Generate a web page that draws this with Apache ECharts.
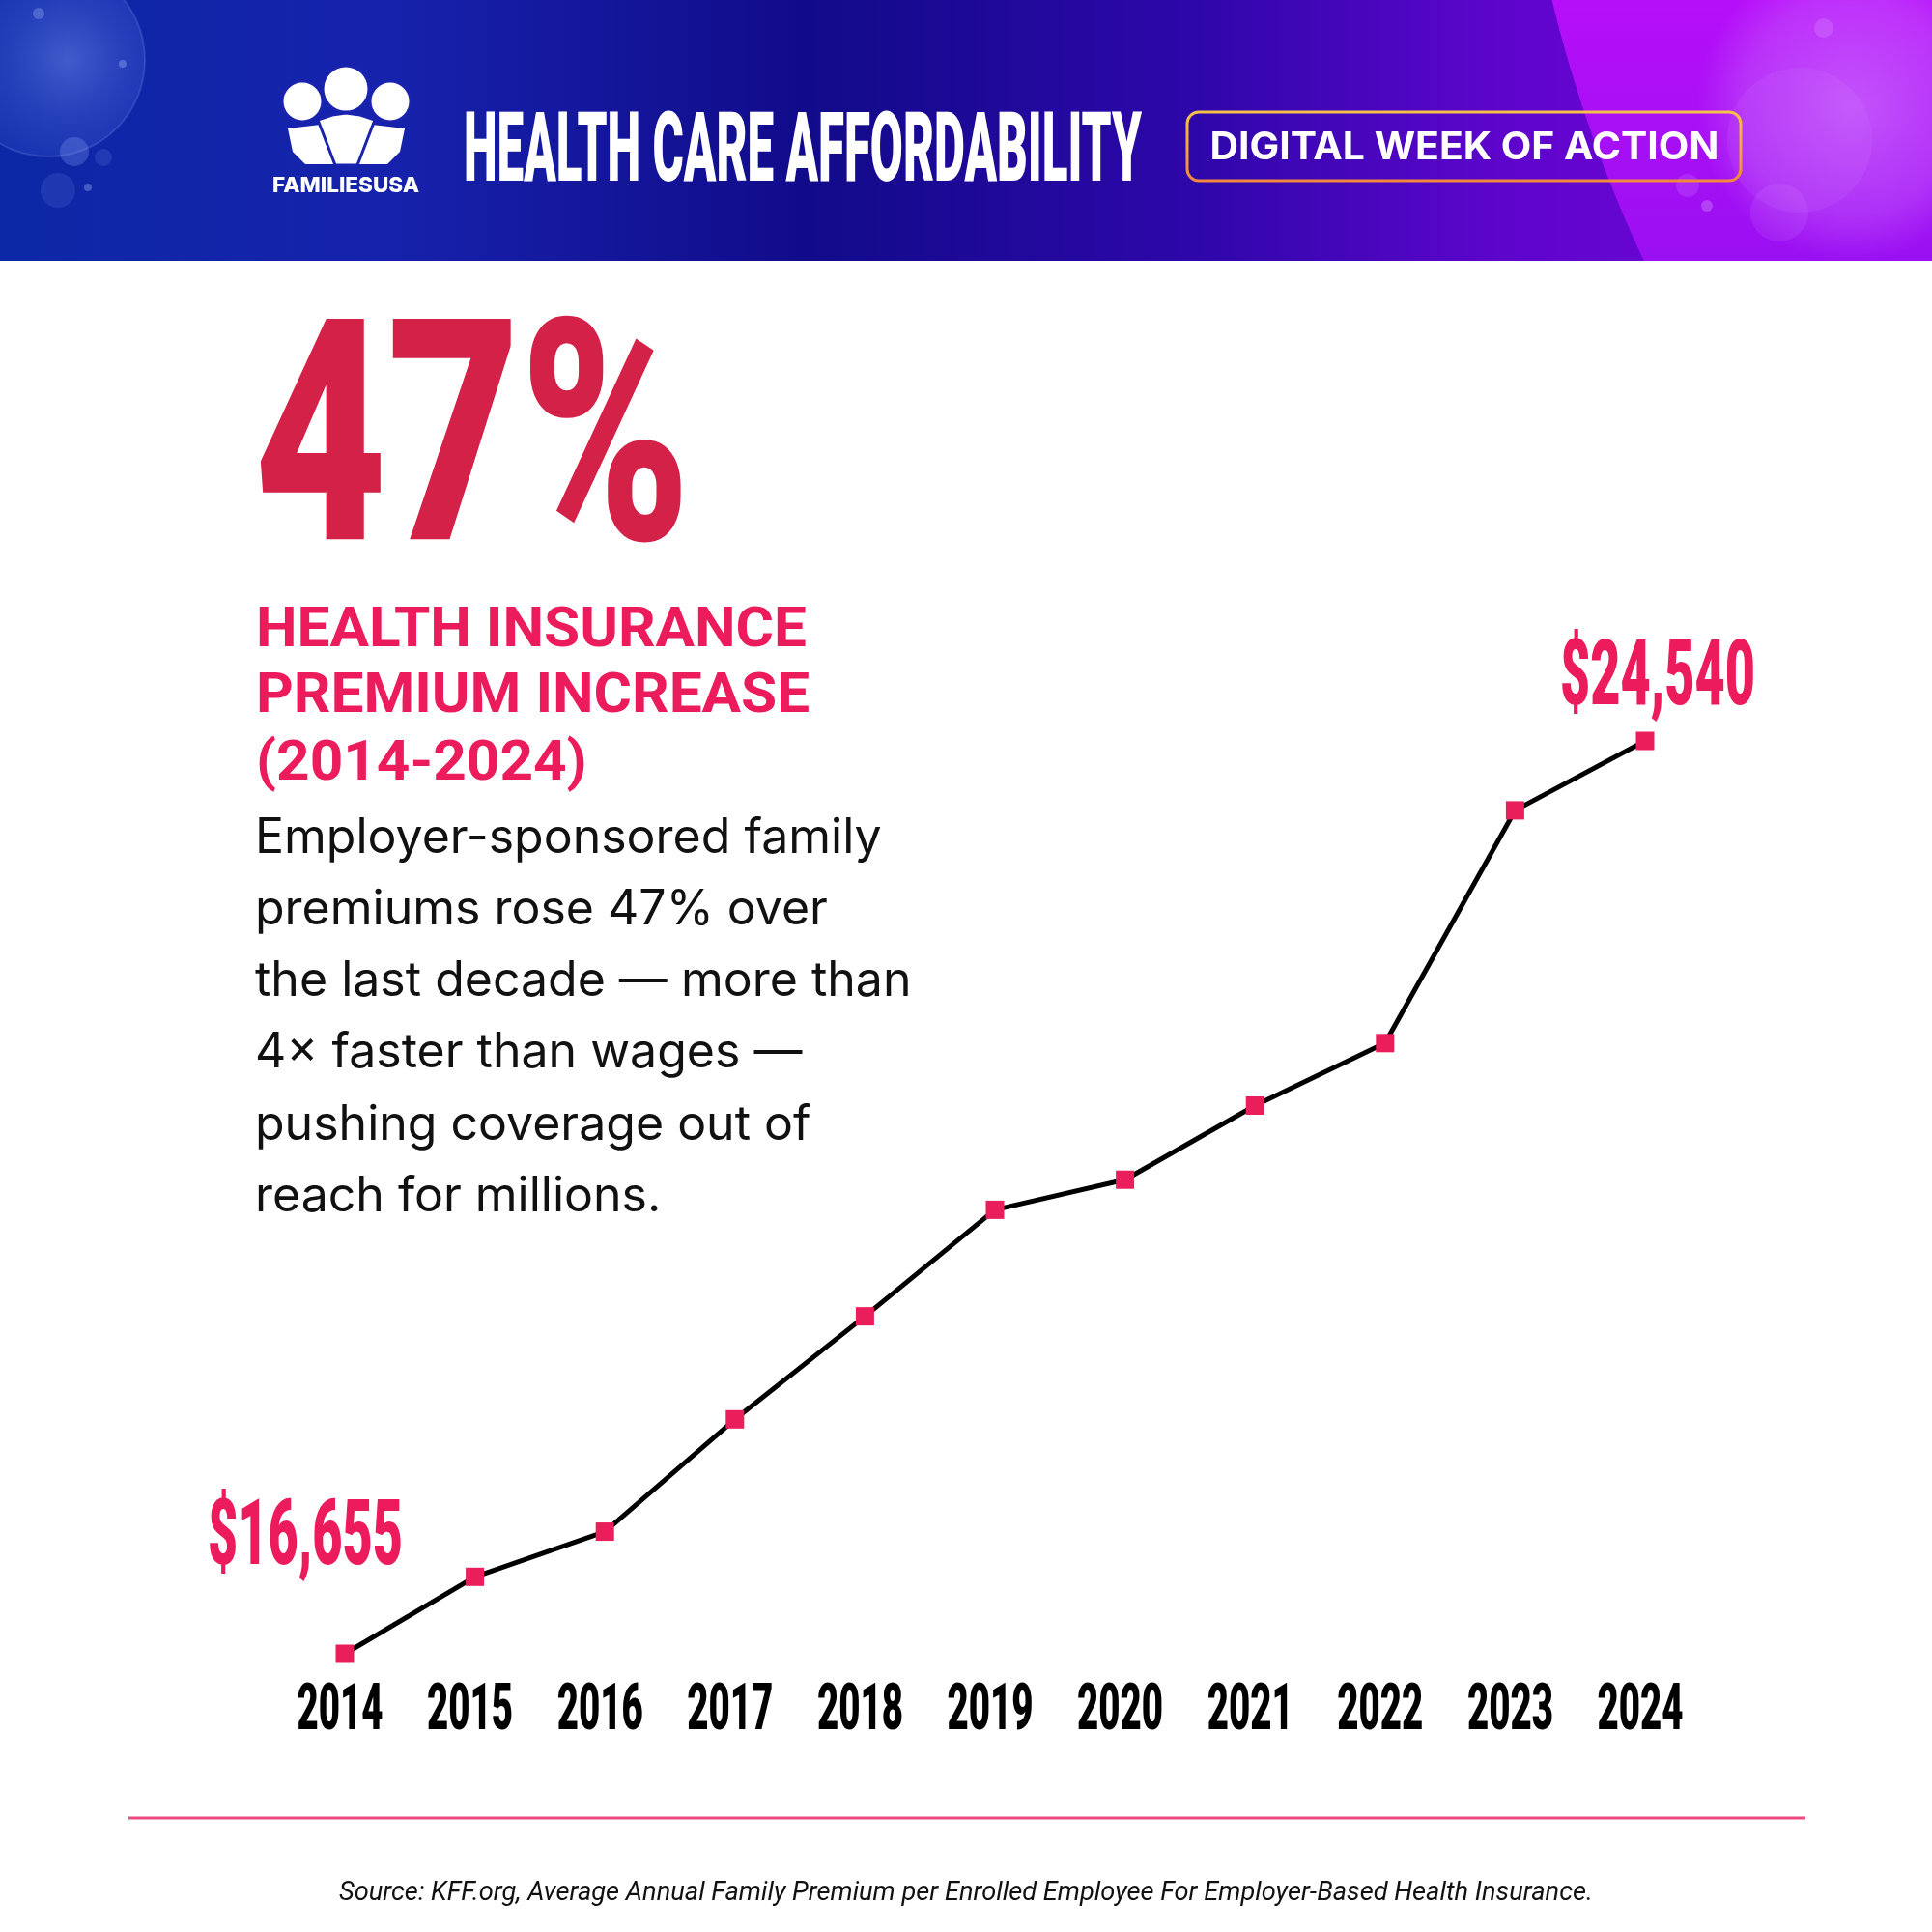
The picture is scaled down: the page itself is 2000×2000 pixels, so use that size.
<!DOCTYPE html>
<html>
<head>
<meta charset="utf-8">
<title>Health Care Affordability</title>
<script src="https://cdn.jsdelivr.net/npm/echarts@6/dist/echarts.min.js"></script>
<style>
    html, body { margin: 0; padding: 0; background: #fff; }
    #main { width: 2000px; height: 2000px; }
</style>
</head>
<body>
<div id="main"></div>
<script>
    // data
    var years = ['2014', '2015', '2016', '2017', '2018', '2019', '2020', '2021', '2022', '2023', '2024'];
    var premiums = [16655, 17320, 17710, 18680, 19570, 20490, 20750, 21390, 21930, 23940, 24540];
    var bodyLines = [
        'Employer-sponsored family',
        'premiums rose 47% over',
        'the last decade \u2014 more than',
        '4\u00d7 faster than wages \u2014',
        'pushing coverage out of',
        'reach for millions.'
    ];
    var headLines = ['HEALTH INSURANCE', 'PREMIUM INCREASE', '(2014\u20112024)'];

    var PINK = '#ec1c5c';
    var CRIMSON = '#d32147';
    var HEADER_H = 270;

    // condensed look: squeeze normal fonts to the measured width
    var ctx = document.createElement('canvas').getContext('2d');
    function fitX(text, font, width) {
        ctx.font = font;
        return width / ctx.measureText(text).width;
    }
    function money(v) {
        return '$' + v.toLocaleString('en-US');
    }

    var titleFont = '900 101px Roboto';
    var bigFont = '900 321px Roboto';
    var yearFont = '900 67px Roboto';
    var moneyFont = '900 94px Roboto';
    var yearScale = fitX('2014', yearFont, 89);
    var moneyScale = fitX('$24,540', moneyFont, 202);

    // big violet arc on the right of the header
    var arcPts = [];
    var acx = 2995, acy = -338, ar = 1429;
    for (var yy = 0; yy <= HEADER_H; yy += 10) {
        arcPts.push([acx - Math.sqrt(ar * ar - (yy - acy) * (yy - acy)), yy]);
    }
    arcPts.push([2000, HEADER_H], [2000, 0]);

    var chart = echarts.init(document.getElementById('main'));

    var graphics = [
        // header band
        {
            type: 'rect', z: 0, shape: {x: 0, y: 0, width: 2000, height: HEADER_H},
            style: {
                fill: new echarts.graphic.LinearGradient(0, 0, 1, 0, [
                    {offset: 0, color: '#0c28a6'},
                    {offset: 0.2, color: '#1622ac'},
                    {offset: 0.42, color: '#110b8a'},
                    {offset: 0.62, color: '#2e07aa'},
                    {offset: 0.78, color: '#5e05cc'},
                    {offset: 1, color: '#7a06dc'}
                ])
            }
        },
        {type: 'polygon', z: 1, shape: {points: arcPts},
            style: {fill: new echarts.graphic.LinearGradient(0, 0, 0, 1, [
                {offset: 0, color: '#b60ef9'},
                {offset: 1, color: '#9a10f2'}
            ])}},
        {type: 'circle', z: 1, shape: {cx: 1917, cy: 110, r: 160},
            style: {fill: new echarts.graphic.RadialGradient(0.5, 0.5, 0.5, [
                {offset: 0, color: 'rgba(215,140,255,0.55)'},
                {offset: 0.7, color: 'rgba(210,130,255,0.3)'},
                {offset: 1, color: 'rgba(210,130,255,0)'}
            ])}},
        {type: 'circle', z: 1, shape: {cx: 1863, cy: 145, r: 75}, style: {fill: 'rgba(220,160,255,0.1)'}},
        {type: 'circle', z: 1, shape: {cx: 1842, cy: 220, r: 30}, style: {fill: 'rgba(220,160,255,0.12)'}},
        {type: 'circle', z: 1, shape: {cx: 1747, cy: 192, r: 12}, style: {fill: 'rgba(220,160,255,0.18)'}},
        {type: 'circle', z: 1, shape: {cx: 1767, cy: 213, r: 6}, style: {fill: 'rgba(230,180,255,0.3)'}},
        {type: 'circle', z: 1, shape: {cx: 1888, cy: 29, r: 10}, style: {fill: 'rgba(230,180,255,0.2)'}},

        {type: 'circle', z: 1, shape: {cx: 50, cy: 62, r: 100},
            style: {fill: new echarts.graphic.RadialGradient(0.6, 0.5, 0.6, [
                {offset: 0, color: 'rgba(140,170,255,0.4)'},
                {offset: 0.5, color: 'rgba(120,150,255,0.22)'},
                {offset: 1, color: 'rgba(120,150,255,0.08)'}
            ]), stroke: 'rgba(160,180,255,0.18)', lineWidth: 2}},
        {type: 'circle', z: 1, shape: {cx: 77, cy: 157, r: 15}, style: {fill: 'rgba(150,175,255,0.25)'}},
        {type: 'circle', z: 1, shape: {cx: 60, cy: 197, r: 18}, style: {fill: 'rgba(150,175,255,0.13)'}},
        {type: 'circle', z: 1, shape: {cx: 107, cy: 163, r: 9}, style: {fill: 'rgba(150,175,255,0.15)'}},
        {type: 'circle', z: 1, shape: {cx: 91, cy: 194, r: 4}, style: {fill: 'rgba(170,190,255,0.35)'}},
        {type: 'circle', z: 1, shape: {cx: 127, cy: 66, r: 4}, style: {fill: 'rgba(170,190,255,0.35)'}},
        {type: 'circle', z: 1, shape: {cx: 40, cy: 14, r: 6}, style: {fill: 'rgba(170,190,255,0.3)'}},

        // logo: bodies then heads
        {type: 'polygon', z: 2, shape: {points: [[298, 133], [332, 129], [350, 170], [316, 170], [303, 157]]}, style: {fill: '#fff'}},
        {type: 'polygon', z: 2, shape: {points: [[419, 133], [385, 129], [367, 170], [401, 170], [414, 157]]}, style: {fill: '#fff'}},
        {type: 'polygon', z: 3, shape: {points: [[329, 124], [344, 119], [358, 117], [373, 119], [388, 124], [370, 171], [347, 171]]},
            style: {fill: '#fff', stroke: '#1a23ae', lineWidth: 3}},
        {type: 'circle', z: 4, shape: {cx: 313, cy: 105, r: 21}, style: {fill: '#fff', stroke: '#1a23ae', lineWidth: 3}},
        {type: 'circle', z: 4, shape: {cx: 404, cy: 105, r: 21}, style: {fill: '#fff', stroke: '#1a23ae', lineWidth: 3}},
        {type: 'circle', z: 5, shape: {cx: 358, cy: 92, r: 24}, style: {fill: '#fff', stroke: '#1a23ae', lineWidth: 3}},
        {
            type: 'text', z: 5, x: 358, y: 192, scaleX: fitX('FAMILIESUSA', '800 22px Inter', 152),
            style: {text: 'FAMILIESUSA', font: '800 22px Inter', fill: '#fff', align: 'center', verticalAlign: 'middle'}
        },

        // header title
        {
            type: 'text', z: 5, x: 480, y: 162, scaleX: fitX('HEALTH CARE AFFORDABILITY', titleFont, 702),
            style: {text: 'HEALTH CARE AFFORDABILITY', font: titleFont, fill: '#fff', align: 'left', verticalAlign: 'middle'}
        },
        // pill
        {
            type: 'rect', z: 5, shape: {x: 1229, y: 116, width: 573, height: 71, r: 12},
            style: {
                fill: 'rgba(0,0,0,0)', lineWidth: 3,
                stroke: new echarts.graphic.LinearGradient(0, 0, 0, 1, [
                    {offset: 0, color: '#f6c24a'},
                    {offset: 1, color: '#f2863e'}
                ])
            }
        },
        {
            type: 'text', z: 5, x: 1516, y: 153, scaleX: fitX('DIGITAL WEEK OF ACTION', '700 39px Inter', 527),
            style: {text: 'DIGITAL WEEK OF ACTION', font: '700 39px Inter', fill: '#fff', align: 'center', verticalAlign: 'middle'}
        },

        // big number
        {
            type: 'text', z: 5, x: 263, y: 478, scaleX: fitX('47%', bigFont, 452),
            style: {text: '47%', font: bigFont, fill: CRIMSON, align: 'left', verticalAlign: 'middle'}
        },

        // divider and source
        {type: 'line', z: 5, shape: {x1: 133, y1: 1882, x2: 1869, y2: 1882}, style: {stroke: '#ec4a80', lineWidth: 3}},
        {
            type: 'text', z: 5, x: 1000, y: 1960,
            scaleX: fitX('Source: KFF.org, Average Annual Family Premium per Enrolled Employee For Employer-Based Health Insurance.', 'italic 27px Roboto', 1298),
            style: {
                text: 'Source: KFF.org, Average Annual Family Premium per Enrolled Employee For Employer-Based Health Insurance.',
                font: 'italic 27px Roboto', fill: '#111', align: 'center', verticalAlign: 'middle'
            }
        }
    ];

    var headY = [654, 722, 792];
    var headScale = fitX(headLines[0], '700 58px Roboto', 570);
    headLines.forEach(function (t, i) {
        graphics.push({
            type: 'text', z: 5, x: 265, y: headY[i], scaleX: headScale,
            style: {text: t, font: '700 58px Roboto', fill: PINK, align: 'left', verticalAlign: 'middle'}
        });
    });
    var bodyY = [868, 942, 1016, 1090, 1165, 1239];
    bodyLines.forEach(function (t, i) {
        graphics.push({
            type: 'text', z: 5, x: 264, y: bodyY[i],
            style: {text: t, font: '400 50px Inter', fill: '#111', align: 'left', verticalAlign: 'middle'}
        });
    });

    var yMin = 16655, yMax = 24540;

    var option = {
        backgroundColor: '#fff',
        animation: false,
        graphic: graphics,
        grid: {left: 357, right: 297, top: 767, bottom: 288},
        xAxis: {
            type: 'category', data: years, boundaryGap: false, show: false
        },
        yAxis: {
            type: 'value', min: yMin, max: yMax, show: false
        },
        series: [
            {
                type: 'line',
                data: premiums,
                z: 3,
                lineStyle: {color: '#000', width: 5},
                symbol: 'rect',
                symbolSize: 19,
                showAllSymbol: true,
                itemStyle: {color: '#e91e5b'}
            },
            {
                // year labels and end values, drawn on the same scales
                type: 'custom',
                z: 4,
                data: premiums.map(function (v, i) { return [i, v]; }),
                renderItem: function (params, api) {
                    var i = api.value(0);
                    var p = api.coord([i, api.value(1)]);
                    var base = api.coord([i, yMin]);
                    var kids = [{
                        type: 'text', x: base[0] - 5, y: base[1] + 61, scaleX: yearScale,
                        style: {text: years[i], font: yearFont, fill: '#000', align: 'center', verticalAlign: 'middle'}
                    }];
                    if (i === 0 || i === premiums.length - 1) {
                        var first = i === 0;
                        kids.push({
                            type: 'text', x: p[0] + (first ? -41 : 13), y: p[1] + (first ? -117 : -62), scaleX: moneyScale,
                            style: {text: money(premiums[i]), font: moneyFont, fill: PINK, align: 'center', verticalAlign: 'middle'}
                        });
                    }
                    return {type: 'group', children: kids};
                }
            }
        ]
    };

    chart.setOption(option);
</script>
</body>
</html>
